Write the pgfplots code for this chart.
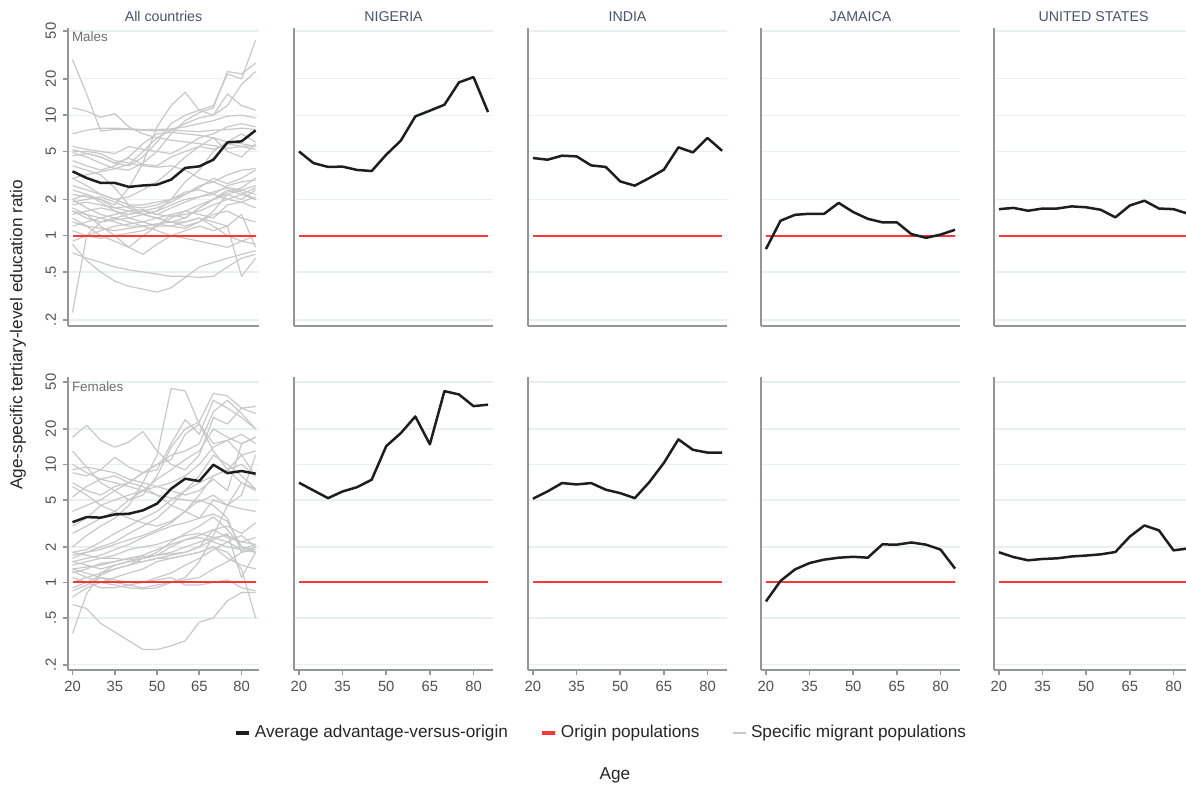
\documentclass[border=0pt]{standalone}
\usepackage{fontspec}
\setmainfont{Liberation Sans}
\usepackage{pgfplots}
\pgfplotsset{compat=1.18}
\definecolor{axgray}{RGB}{150,150,150}
\definecolor{gridc}{RGB}{232,240,240}
\definecolor{titlec}{RGB}{75,82,112}
\definecolor{tickc}{RGB}{80,80,80}
\definecolor{origred}{RGB}{255,55,55}
\definecolor{miggray}{RGB}{200,200,200}
\definecolor{avgblack}{RGB}{30,30,30}
\definecolor{labc}{RGB}{110,110,110}

\pgfplotsset{
  every axis title/.style={at={(0.5,1)}, anchor=base, yshift=3.3pt, inner sep=0pt,
    font=\fontsize{7.1}{8}\selectfont, color=titlec},
  mypanel/.style={
    scale only axis,
    axis x line*=bottom, axis y line*=left,
    axis line style={axgray, line width=0.9pt},
    ytick={0.2,0.5,1,2,5,10,20,50}, yminorticks=false,
    ymajorgrids, grid style={gridc, line width=0.6pt},
    tick style={axgray, line width=0.8pt},
    tick align=outside, major tick length=2.5pt,
    ticklabel style={font=\fontsize{7.4}{8}\selectfont, color=tickc},
    anchor=south west, clip=false,
  },
  mytop/.style={ymin=0.178, ymax=52.9, height=149pt, xtick=\empty},
  mybot/.style={ymin=0.181, ymax=55.1, height=146.5pt,
    xtick={20,35,50,65,80}, xticklabels={20,35,50,65,80},
    xticklabel style={yshift=0.5pt}},
  myfirst/.style={xmin=18.4, xmax=86.2, width=95.5pt,
    yticklabels={.2,.5,1,2,5,10,20,50},
    yticklabel style={rotate=90, anchor=south}},
  myother/.style={xmin=18.3, xmax=86.7, width=99.5pt,
    yticklabel=\empty, ytick style={draw=none}},
  mygl/.style={miggray, line width=0.6pt, no marks, line join=round},
  myavg/.style={avgblack, line width=1.25pt, no marks, line join=round},
  myorig/.style={origred, line width=1.0pt, no marks},
}

\pgfplotstableread{
age all nig ind jam usa
20 3.42 5.0  4.41 0.775 1.66
25 3.01 4.0  4.27 1.33  1.70
30 2.74 3.72 4.61 1.49  1.61
35 2.74 3.74 4.55 1.52  1.68
40 2.54 3.51 3.83 1.52  1.68
45 2.61 3.44 3.72 1.87  1.75
50 2.65 4.70 2.82 1.57  1.72
55 2.92 6.14 2.60 1.38  1.64
60 3.65 9.77 3.01 1.29  1.42
65 3.76 10.9 3.53 1.29  1.78
70 4.27 12.2 5.41 1.03  1.95
75 5.95 18.7 4.91 0.96  1.68
80 6.06 20.7 6.47 1.02  1.66
85 7.48 10.6 5.07 1.12  1.52
}\maleavg

\pgfplotstableread{
age all nig ind jam usa
20 3.24 7.0  5.12 0.69 1.80
25 3.58 6.02 5.90 1.03 1.64
30 3.54 5.18 6.95 1.29 1.54
35 3.77 5.90 6.77 1.46 1.58
40 3.82 6.42 6.95 1.56 1.60
45 4.08 7.42 6.11 1.62 1.66
50 4.65 14.3 5.71 1.65 1.69
55 6.22 18.4 5.18 1.62 1.73
60 7.57 25.5 7.08 2.10 1.81
65 7.22 14.8 10.3 2.09 2.45
70 9.94 41.8 16.3 2.18 3.04
75 8.44 39.2 13.3 2.09 2.76
80 8.79 31.2 12.6 1.90 1.87
85 8.34 32.1 12.6 1.31 1.94
}\femaleavg

\begin{document}
\begin{tikzpicture}
\path[use as bounding box] (0pt,0pt) rectangle (593pt,393.5pt);

% ---------------- TOP ROW (Males) ----------------
\begin{axis}[ymode=log, mypanel, mytop, myfirst, at={(34pt,230.5pt)}, title={All countries}]
\addplot[mygl] coordinates {(20,29)(25,15)(30,7.4)(35,7.6)(40,7.6)(45,7.5)(50,7.4)(55,7.5)(60,7.4)(65,7.3)(70,7.5)(75,7.6)(80,7.8)(85,7.6)};
\addplot[mygl] coordinates {(20,11.5)(25,10.8)(30,9.6)(35,10.3)(40,8.0)(45,7.0)(50,6.5)(55,6.2)(60,6.0)(65,5.8)(70,5.6)(75,5.3)(80,5.5)(85,5.2)};
\addplot[mygl] coordinates {(20,0.23)(25,1.0)(30,1.3)(35,1.4)(40,1.5)(45,1.6)(50,1.5)(55,1.7)(60,1.9)(65,2.1)(70,2.3)(75,2.5)(80,2.4)(85,2.6)};
\addplot[mygl] coordinates {(20,0.85)(25,0.62)(30,0.5)(35,0.42)(40,0.38)(45,0.36)(50,0.34)(55,0.37)(60,0.45)(65,0.55)(70,0.6)(75,0.65)(80,0.7)(85,0.75)};
\addplot[mygl] coordinates {(20,0.72)(25,0.65)(30,0.6)(35,0.55)(40,0.52)(45,0.5)(50,0.48)(55,0.46)(60,0.46)(65,0.45)(70,0.46)(75,0.55)(80,0.65)(85,0.7)};
\addplot[mygl] coordinates {(20,5.2)(25,4.8)(30,4.5)(35,4.0)(40,3.8)(45,4.5)(50,6.0)(55,8.5)(60,10)(65,11)(70,12)(75,22)(80,20)(85,42)};
\addplot[mygl] coordinates {(20,4.9)(25,4.5)(30,4.0)(35,3.6)(40,3.5)(45,4.0)(50,5.0)(55,7.0)(60,9.0)(65,10.5)(70,11.5)(75,23)(80,22)(85,27)};
\addplot[mygl] coordinates {(20,2.0)(25,2.2)(30,2.0)(35,1.8)(40,2.5)(45,4.0)(50,8.0)(55,12)(60,15.5)(65,11)(70,10)(75,15)(80,12)(85,11)};
\addplot[mygl] coordinates {(20,3.0)(25,3.2)(30,3.4)(35,3.6)(40,3.9)(45,5.0)(50,6.5)(55,7.5)(60,8.5)(65,9.5)(70,10)(75,12)(80,18)(85,23)};
\addplot[mygl] coordinates {(20,7.0)(25,7.5)(30,7.8)(35,7.8)(40,7.7)(45,7.6)(50,7.6)(55,7.7)(60,8.0)(65,8.5)(70,9.0)(75,9.8)(80,10)(85,9.5)};
\addplot[mygl] coordinates {(20,5.5)(25,5.2)(30,5.0)(35,4.8)(40,5.5)(45,5.2)(50,5.0)(55,4.8)(60,5.5)(65,6.5)(70,7.0)(75,8.0)(80,8.5)(85,8.0)};
\addplot[mygl] coordinates {(20,4.6)(25,4.8)(30,4.5)(35,4.0)(40,4.4)(45,3.9)(50,3.8)(55,4.5)(60,5.0)(65,5.5)(70,5.2)(75,5.8)(80,5.5)(85,5.6)};
\addplot[mygl] coordinates {(20,1.8)(25,1.9)(30,1.8)(35,1.7)(40,1.75)(45,1.7)(50,1.8)(55,2.0)(60,2.2)(65,2.5)(70,3.0)(75,2.7)(80,3.0)(85,3.5)};
\addplot[mygl] coordinates {(20,1.6)(25,1.4)(30,1.3)(35,1.35)(40,1.4)(45,1.5)(50,1.4)(55,1.3)(60,1.3)(65,1.4)(70,1.3)(75,1.2)(80,1.5)(85,0.8)};
\addplot[mygl] coordinates {(20,1.4)(25,1.2)(30,1.0)(35,0.9)(40,0.8)(45,0.7)(50,0.85)(55,1.0)(60,1.1)(65,1.2)(70,1.1)(75,1.2)(80,0.46)(85,0.65)};
\addplot[mygl] coordinates {(20,2.6)(25,2.4)(30,2.2)(35,2.0)(40,1.8)(45,1.8)(50,1.9)(55,2.0)(60,2.3)(65,2.4)(70,2.2)(75,2.0)(80,2.2)(85,2.5)};
\addplot[mygl] coordinates {(20,1.2)(25,1.3)(30,1.4)(35,1.5)(40,1.6)(45,1.5)(50,1.4)(55,1.3)(60,1.2)(65,1.3)(70,1.6)(75,2.2)(80,2.4)(85,2.2)};
\addplot[mygl] coordinates {(20,1.5)(25,1.6)(30,1.7)(35,1.6)(40,1.5)(45,1.6)(50,1.7)(55,1.9)(60,2.2)(65,2.6)(70,2.8)(75,3.2)(80,3.5)(85,3.6)};
\addplot[mygl] coordinates {(20,2.2)(25,2.1)(30,2.0)(35,1.7)(40,1.6)(45,1.65)(50,1.5)(55,1.45)(60,1.5)(65,1.6)(70,1.8)(75,2.0)(80,1.9)(85,1.7)};
\addplot[mygl] coordinates {(20,3.8)(25,3.5)(30,3.2)(35,2.5)(40,1.8)(45,1.5)(50,1.6)(55,2.0)(60,2.8)(65,3.5)(70,5.0)(75,6.0)(80,7.0)(85,6.0)};
\addplot[mygl] coordinates {(20,1.7)(25,1.5)(30,1.2)(35,1.0)(40,0.8)(45,1.0)(50,1.2)(55,1.5)(60,1.4)(65,1.7)(70,2.0)(75,2.2)(80,2.0)(85,2.4)};
\addplot[mygl] coordinates {(20,1.3)(25,1.2)(30,1.15)(35,1.1)(40,1.15)(45,1.2)(50,1.25)(55,1.2)(60,1.15)(65,1.3)(70,1.5)(75,1.6)(80,1.4)(85,1.3)};
\addplot[mygl] coordinates {(20,0.9)(25,1.0)(30,1.1)(35,1.2)(40,1.25)(45,1.3)(50,1.4)(55,1.5)(60,1.6)(65,1.8)(70,2.0)(75,2.4)(80,2.2)(85,2.0)};
\addplot[mygl] coordinates {(20,4.2)(25,3.8)(30,3.5)(35,3.8)(40,4.5)(45,5.8)(50,7.0)(55,7.2)(60,7.0)(65,6.8)(70,6.5)(75,6.0)(80,5.8)(85,5.5)};
\addplot[mygl] coordinates {(20,2.0)(25,1.7)(30,1.5)(35,1.4)(40,1.3)(45,1.2)(50,1.1)(55,1.0)(60,0.95)(65,0.9)(70,0.85)(75,0.8)(80,0.9)(85,1.0)};
\addplot[mygl] coordinates {(20,1.9)(25,2.0)(30,2.1)(35,1.9)(40,1.7)(45,1.5)(50,1.6)(55,1.8)(60,2.0)(65,2.1)(70,2.2)(75,2.6)(80,2.8)(85,2.9)};
\addplot[mygl] coordinates {(20,3.0)(25,2.6)(30,2.2)(35,2.0)(40,2.1)(45,2.4)(50,2.8)(55,3.5)(60,4.5)(65,5.5)(70,6.5)(75,5.0)(80,4.5)(85,5.8)};
\addplot[mygl] coordinates {(20,5.0)(25,5.0)(30,4.8)(35,4.2)(40,4.0)(45,3.8)(50,3.7)(55,3.8)(60,3.5)(65,3.0)(70,2.8)(75,2.5)(80,2.3)(85,2.0)};
\addplot[mygl] coordinates {(20,2.4)(25,2.2)(30,1.9)(35,1.6)(40,1.4)(45,1.3)(50,1.2)(55,1.2)(60,1.3)(65,1.4)(70,1.2)(75,1.0)(80,0.9)(85,0.85)};
\addplot[mygl] coordinates {(20,1.1)(25,1.0)(30,0.95)(35,1.0)(40,1.05)(45,1.1)(50,1.2)(55,1.4)(60,1.6)(65,1.5)(70,1.4)(75,1.8)(80,1.9)(85,2.1)};
\addplot[mygl] coordinates {(20,1.6)(25,1.5)(30,1.4)(35,1.3)(40,1.2)(45,1.2)(50,1.25)(55,1.3)(60,1.4)(65,1.7)(70,2.0)(75,2.3)(80,2.5)(85,3.0)};
\addplot[myorig] coordinates {(20,1)(85,1)};
\addplot[myavg] table[x=age,y=all] {\maleavg};
\node[anchor=north west, inner sep=0pt, font=\fontsize{6.7}{8}\selectfont, text=labc] at (rel axis cs:0,1) [xshift=1.8pt, yshift=-1.6pt] {Males};
\end{axis}

\begin{axis}[ymode=log, mypanel, mytop, myother, at={(147pt,230.5pt)}, title={NIGERIA}]
\addplot[myorig] coordinates {(20,1)(85,1)};
\addplot[myavg] table[x=age,y=nig] {\maleavg};
\end{axis}

\begin{axis}[ymode=log, mypanel, mytop, myother, at={(264pt,230.5pt)}, title={INDIA}]
\addplot[myorig] coordinates {(20,1)(85,1)};
\addplot[myavg] table[x=age,y=ind] {\maleavg};
\end{axis}

\begin{axis}[ymode=log, mypanel, mytop, myother, at={(380.5pt,230.5pt)}, title={JAMAICA}]
\addplot[myorig] coordinates {(20,1)(85,1)};
\addplot[myavg] table[x=age,y=jam] {\maleavg};
\end{axis}

\begin{axis}[ymode=log, mypanel, mytop, myother, at={(497pt,230.5pt)}, title={UNITED STATES}]
\addplot[myorig] coordinates {(20,1)(85,1)};
\addplot[myavg] table[x=age,y=usa] {\maleavg};
\end{axis}

% ---------------- BOTTOM ROW (Females) ----------------
\begin{axis}[ymode=log, mypanel, mybot, myfirst, at={(34pt,58.5pt)}]
\addplot[mygl] coordinates {(20,17)(25,21.5)(30,16)(35,14)(40,15.5)(45,19)(50,13)(55,10)(60,9)(65,12)(70,25)(75,22)(80,30)(85,31)};
\addplot[mygl] coordinates {(20,2.0)(25,2.5)(30,3.0)(35,3.5)(40,4.5)(45,7.0)(50,12)(55,44)(60,42)(65,22)(70,13)(75,9)(80,7)(85,6.2)};
\addplot[mygl] coordinates {(20,13)(25,9.5)(30,7.0)(35,6.0)(40,5.0)(45,5.5)(50,8.0)(55,14)(60,20)(65,23)(70,40)(75,38)(80,30)(85,27)};
\addplot[mygl] coordinates {(20,9.0)(25,9.5)(30,9.0)(35,11.5)(40,9.5)(45,8.5)(50,9.0)(55,15)(60,24)(65,18)(70,35)(75,30)(80,25)(85,20)};
\addplot[mygl] coordinates {(20,8.5)(25,8.0)(30,9.0)(35,8.5)(40,7.5)(45,7.0)(50,6.5)(55,6.0)(60,5.5)(65,6.0)(70,7.5)(75,6.0)(80,15)(85,17)};
\addplot[mygl] coordinates {(20,7.0)(25,6.0)(30,5.5)(35,6.5)(40,7.0)(45,8.5)(50,10)(55,11)(60,18)(65,22)(70,15)(75,16)(80,12)(85,13)};
\addplot[mygl] coordinates {(20,5.3)(25,6.5)(30,7.5)(35,8.0)(40,7.0)(45,6.5)(50,5.5)(55,4.5)(60,4.0)(65,3.5)(70,5.0)(75,4.5)(80,4.2)(85,4.0)};
\addplot[mygl] coordinates {(20,1.8)(25,1.9)(30,2.2)(35,2.6)(40,3.0)(45,3.5)(50,4.0)(55,5.0)(60,6.0)(65,7.0)(70,8.0)(75,9.0)(80,12)(85,8.0)};
\addplot[mygl] coordinates {(20,0.65)(25,0.6)(30,0.45)(35,0.38)(40,0.32)(45,0.27)(50,0.27)(55,0.29)(60,0.32)(65,0.46)(70,0.5)(75,0.7)(80,0.82)(85,0.82)};
\addplot[mygl] coordinates {(20,0.37)(25,0.8)(30,1.2)(35,1.4)(40,1.5)(45,1.6)(50,1.7)(55,2.0)(60,2.3)(65,2.5)(70,2.8)(75,3.0)(80,2.6)(85,3.2)};
\addplot[mygl] coordinates {(20,0.75)(25,0.9)(30,1.0)(35,1.1)(40,1.2)(45,1.3)(50,1.5)(55,1.6)(60,1.7)(65,1.8)(70,2.0)(75,1.8)(80,1.3)(85,0.5)};
\addplot[mygl] coordinates {(20,1.5)(25,1.6)(30,1.7)(35,1.9)(40,2.1)(45,2.4)(50,2.7)(55,3.0)(60,3.2)(65,3.5)(70,3.8)(75,3.3)(80,2.0)(85,1.9)};
\addplot[mygl] coordinates {(20,1.4)(25,1.5)(30,1.6)(35,1.6)(40,1.55)(45,1.6)(50,1.7)(55,1.8)(60,2.0)(65,2.2)(70,2.4)(75,2.5)(80,2.2)(85,2.1)};
\addplot[mygl] coordinates {(20,1.3)(25,1.2)(30,1.1)(35,1.0)(40,0.95)(45,0.9)(50,0.95)(55,1.0)(60,1.1)(65,1.5)(70,2.5)(75,4.5)(80,7.0)(85,6.0)};
\addplot[mygl] coordinates {(20,1.2)(25,1.3)(30,1.45)(35,1.5)(40,1.6)(45,1.7)(50,1.9)(55,2.1)(60,2.3)(65,2.4)(70,2.2)(75,2.0)(80,1.9)(85,2.1)};
\addplot[mygl] coordinates {(20,1.1)(25,1.0)(30,0.9)(35,0.9)(40,0.95)(45,1.0)(50,1.1)(55,1.2)(60,1.4)(65,1.6)(70,1.9)(75,2.2)(80,2.5)(85,2.0)};
\addplot[mygl] coordinates {(20,0.9)(25,1.0)(30,1.15)(35,1.3)(40,1.4)(45,1.6)(50,1.8)(55,2.2)(60,2.6)(65,3.0)(70,3.6)(75,2.8)(80,2.0)(85,1.8)};
\addplot[mygl] coordinates {(20,1.6)(25,1.8)(30,2.0)(35,2.2)(40,2.6)(45,3.0)(50,3.5)(55,4.5)(60,6.0)(65,8.0)(70,12)(75,10)(80,8.0)(85,6.2)};
\addplot[mygl] coordinates {(20,1.5)(25,1.4)(30,1.3)(35,1.4)(40,1.5)(45,1.5)(50,1.6)(55,1.6)(60,1.7)(65,1.8)(70,2.0)(75,1.6)(80,1.4)(85,1.3)};
\addplot[mygl] coordinates {(20,1.8)(25,1.7)(30,1.6)(35,1.7)(40,1.9)(45,2.0)(50,2.1)(55,2.3)(60,2.5)(65,2.6)(70,2.4)(75,2.2)(80,1.9)(85,1.8)};
\addplot[mygl] coordinates {(20,2.6)(25,3.0)(30,3.5)(35,4.0)(40,5.0)(45,6.0)(50,7.5)(55,9.0)(60,11)(65,13)(70,20)(75,17)(80,15)(85,17)};
\addplot[mygl] coordinates {(20,4.0)(25,4.5)(30,5.0)(35,6.0)(40,7.0)(45,8.5)(50,10)(55,12)(60,13)(65,15)(70,28)(75,35)(80,27)(85,20)};
\addplot[mygl] coordinates {(20,1.3)(25,1.35)(30,1.4)(35,1.5)(40,1.6)(45,1.65)(50,1.7)(55,1.75)(60,1.8)(65,2.0)(70,2.8)(75,2.4)(80,2.2)(85,2.4)};
\addplot[mygl] coordinates {(20,10)(25,8.5)(30,7.5)(35,7.0)(40,6.5)(45,6.0)(50,5.5)(55,5.2)(60,5.0)(65,4.8)(70,5.5)(75,4.5)(80,5.5)(85,12)};
\addplot[mygl] coordinates {(20,0.85)(25,0.95)(30,1.1)(35,1.05)(40,1.0)(45,1.0)(50,1.05)(55,1.1)(60,0.95)(65,0.95)(70,1.0)(75,1.05)(80,0.9)(85,0.85)};
\addplot[mygl] coordinates {(20,1.7)(25,1.8)(30,1.9)(35,2.1)(40,2.3)(45,2.5)(50,2.8)(55,3.2)(60,4.0)(65,5.0)(70,4.5)(75,3.5)(80,1.8)(85,2.0)};
\addplot[mygl] coordinates {(20,3.0)(25,3.5)(30,4.5)(35,5.0)(40,5.5)(45,6.0)(50,6.5)(55,7.0)(60,8.0)(65,10)(70,14)(75,16)(80,18)(85,15)};
\addplot[mygl] coordinates {(20,1.0)(25,1.1)(30,1.2)(35,1.3)(40,1.4)(45,1.5)(50,1.6)(55,1.7)(60,1.8)(65,2.0)(70,2.3)(75,2.6)(80,1.1)(85,1.8)};
\addplot[mygl] coordinates {(20,6.5)(25,5.5)(30,4.5)(35,4.0)(40,3.5)(45,3.2)(50,3.0)(55,3.3)(60,4.0)(65,5.5)(70,8.0)(75,9.0)(80,10)(85,8.0)};
\addplot[mygl] coordinates {(20,1.25)(25,1.1)(30,1.0)(35,0.95)(40,0.9)(45,0.88)(50,0.9)(55,1.0)(60,1.05)(65,1.1)(70,1.3)(75,1.5)(80,1.8)(85,1.9)};
\addplot[myorig] coordinates {(20,1)(85,1)};
\addplot[myavg] table[x=age,y=all] {\femaleavg};
\node[anchor=north west, inner sep=0pt, font=\fontsize{6.7}{8}\selectfont, text=labc] at (rel axis cs:0,1) [xshift=1.8pt, yshift=-2.2pt] {Females};
\end{axis}

\begin{axis}[ymode=log, mypanel, mybot, myother, at={(147pt,58.5pt)}]
\addplot[myorig] coordinates {(20,1)(85,1)};
\addplot[myavg] table[x=age,y=nig] {\femaleavg};
\end{axis}

\begin{axis}[ymode=log, mypanel, mybot, myother, at={(264pt,58.5pt)},
  legend columns=3,
  legend style={at={(axis description cs:0.372,-0.215)}, anchor=center, draw=none, fill=none,
    font=\fontsize{8.6}{10}\selectfont, text=black!85,
    /tikz/every even column/.append style={column sep=14pt}},
  legend cell align=left,
  legend image code/.code={\draw[#1] (0pt,0pt) -- (6.5pt,0pt);}]
\addlegendimage{avgblack, line width=2pt}
\addlegendentry{Average advantage-versus-origin}
\addlegendimage{origred, line width=2pt}
\addlegendentry{Origin populations}
\addlegendimage{miggray, line width=1.2pt}
\addlegendentry{Specific migrant populations}
\addplot[myorig, forget plot] coordinates {(20,1)(85,1)};
\addplot[myavg, forget plot] table[x=age,y=ind] {\femaleavg};
\end{axis}

\begin{axis}[ymode=log, mypanel, mybot, myother, at={(380.5pt,58.5pt)}]
\addplot[myorig] coordinates {(20,1)(85,1)};
\addplot[myavg] table[x=age,y=jam] {\femaleavg};
\end{axis}

\begin{axis}[ymode=log, mypanel, mybot, myother, at={(497pt,58.5pt)}]
\addplot[myorig] coordinates {(20,1)(85,1)};
\addplot[myavg] table[x=age,y=usa] {\femaleavg};
\end{axis}

\node[rotate=90, font=\fontsize{8.6}{10}\selectfont, text=black!85] at (9pt,226pt) {Age-specific tertiary-level education ratio};
\node[font=\fontsize{8.6}{10}\selectfont, text=black!85] at (307.5pt,6pt) {Age};
\end{tikzpicture}
\end{document}
